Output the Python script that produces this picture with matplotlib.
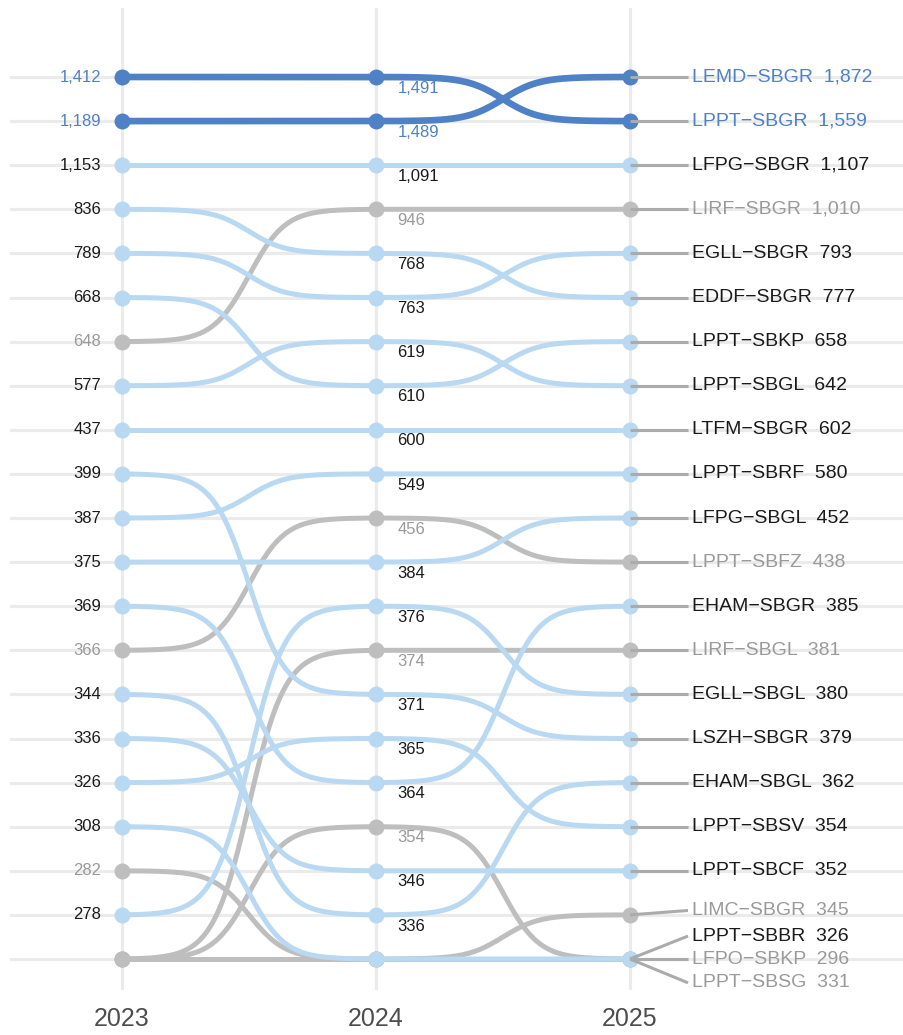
import numpy as np
import matplotlib
matplotlib.use("Agg")
import matplotlib.pyplot as plt

plt.rcParams['font.family'] = ['Liberation Sans', 'DejaVu Sans']

# --- data: weekly flights per route, None = outside the top 20 that year ---
YEARS  = [2023, 2024, 2025]
ROUTES = ["LEMD-SBGR", "LPPT-SBGR", "LFPG-SBGR", "LIRF-SBGR", "EGLL-SBGR",
          "EDDF-SBGR", "LPPT-SBKP", "LPPT-SBGL", "LTFM-SBGR", "LPPT-SBRF",
          "LFPG-SBGL", "LPPT-SBFZ", "EHAM-SBGR", "LIRF-SBGL", "EGLL-SBGL",
          "LSZH-SBGR", "EHAM-SBGL", "LPPT-SBSV", "LPPT-SBCF", "LIMC-SBGR",
          "LPPT-SBBR", "LFPO-SBKP", "LPPT-SBSG"]
V2023 = [1189, 1412, 1153, 648, 789, 836, 668, 577, 437, 387,
         375, 366, 369, None, 278, 399, 344, 326, 336, 282,
         308, None, None]
V2024 = [1489, 1491, 1091, 946, 763, 768, 610, 619, 600, 549,
         384, 456, 364, 374, 376, 371, 336, 365, 346, None,
         None, None, 354]
V2025 = [1872, 1559, 1107, 1010, 793, 777, 658, 642, 602, 580,
         452, 438, 385, 381, 380, 379, 362, 354, 352, 345,
         326, 296, 331]
GROUP = ["hi", "hi", "base", "grey", "base", "base", "base", "base", "base", "base",
         "base", "grey", "base", "grey", "base", "base", "base", "base", "base", "grey",
         "base", "grey", "grey"]
TOP_N = 20

# --- style ---
LINE_COL = {"hi": "#4F81C6", "base": "#B9D8F1", "grey": "#BEBEBE"}
TEXT_COL = {"hi": "#4F81C6", "base": "#1A1A1A", "grey": "#9A9A9A"}
LINE_W   = {"hi": 4.8, "base": 3.6, "grey": 3.6}
ZORD     = {"grey": 2, "base": 3, "hi": 4}
GRID_COL = "#EBEBEB"
# vertical nudges for the crowded labels at the bottom right (in rank units)
LABEL_NUDGE = {"LIMC-SBGR": -0.1, "LPPT-SBBR": -0.52, "LPPT-SBSG": 0.54}


def ranks(values):
    # rank within the year, everything outside the top N sits at N+1
    idx = sorted([i for i, v in enumerate(values) if v is not None],
                 key=lambda i: -values[i])
    r = [TOP_N + 1] * len(values)
    for k, i in enumerate(idx[:TOP_N]):
        r[i] = k + 1
    return r


def sigmoid(x0, x1, y0, y1, smooth=7, n=80):
    t = np.linspace(-smooth, smooth, n)
    s = 1 / (1 + np.exp(-t))
    s = (s - s[0]) / (s[-1] - s[0])
    return np.linspace(x0, x1, n), y0 + (y1 - y0) * s


R = [ranks(V2023), ranks(V2024), ranks(V2025)]
VALS = [V2023, V2024, V2025]

fig = plt.figure(figsize=(9.04, 10.35), dpi=100)
ax = fig.add_axes([10 / 904, 45 / 1035, 894 / 904, 982 / 1035])
ax.set_xlim(2023 - 112 / 254, 2023 + 782 / 254)
ax.set_ylim(21 + 31 / 44.1, 1 - 69 / 44.1)

for y in range(1, TOP_N + 2):
    ax.axhline(y, color=GRID_COL, lw=2.3, zorder=0)
for x in YEARS:
    ax.axvline(x, color=GRID_COL, lw=2.3, zorder=0)

# --- bump lines + points ---
for i, name in enumerate(ROUTES):
    g = GROUP[i]
    xs, ys = [], []
    for k in range(len(YEARS) - 1):
        sx, sy = sigmoid(YEARS[k], YEARS[k + 1], R[k][i], R[k + 1][i])
        xs.append(sx)
        ys.append(sy)
    ax.plot(np.concatenate(xs), np.concatenate(ys), color=LINE_COL[g],
            lw=LINE_W[g], solid_capstyle="round", zorder=ZORD[g])
    ax.plot(YEARS, [R[k][i] for k in range(3)], "o", color=LINE_COL[g],
            ms=11.5, mec="none", zorder=ZORD[g] + 0.5)

# --- value labels for 2023 and 2024 ---
for i, name in enumerate(ROUTES):
    g = GROUP[i]
    if R[0][i] <= TOP_N:
        ax.annotate(f"{V2023[i]:,}", (2023, R[0][i]), xytext=(-15, 0),
                    textcoords="offset points", ha="right", va="center",
                    fontsize=12, color=TEXT_COL[g], zorder=6)
    if R[1][i] <= TOP_N:
        ax.annotate(f"{V2024[i]:,}", (2024, R[1][i]), xytext=(15.5, -8),
                    textcoords="offset points", ha="left", va="center",
                    fontsize=12, color=TEXT_COL[g], zorder=6)

# --- 2025 route labels with leader segments ---
for i, name in enumerate(ROUTES):
    g = GROUP[i]
    r = R[2][i]
    ly = r + LABEL_NUDGE.get(name, 0)
    ax.plot([2025, 2025 + 58 / 254], [r, ly], color="#ABABAB", lw=2.2,
            solid_capstyle="butt", zorder=7)
    label = name.replace("-", "\u2212") + f"  {V2025[i]:,}"
    ax.text(2025 + 62 / 254, ly, label, ha="left", va="center",
            fontsize=14, color=TEXT_COL[g], zorder=8)

ax.set_xticks(YEARS)
ax.set_xticklabels([str(y) for y in YEARS], fontsize=18, color="#4D4D4D")
ax.tick_params(axis="x", length=0, pad=12)
ax.set_yticks([])
for s in ax.spines.values():
    s.set_visible(False)

fig.savefig("out.png", dpi=100)
